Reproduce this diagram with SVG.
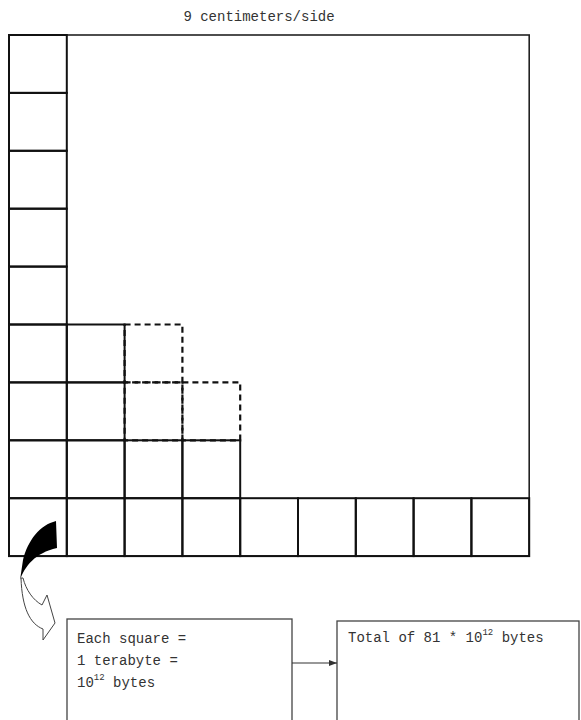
<svg xmlns="http://www.w3.org/2000/svg" width="581" height="720" viewBox="0 0 581 720">
<style>
  .t { font-family: "Liberation Mono", "DejaVu Sans Mono", monospace; font-size: 14px; fill: #333; }
  .sup { font-size: 9px; }
  .cell { fill: none; stroke: #111; stroke-width: 2; }
  .dcell { fill: none; stroke: #111; stroke-width: 2.2; stroke-dasharray: 6 4; }
  .frame { fill: none; stroke: #222; stroke-width: 1.6; }
  .box { fill: none; stroke: #444; stroke-width: 1.3; }
  .conn { fill: none; stroke: #333; stroke-width: 1.2; }
</style>
<defs>
  <marker id="ah" markerWidth="8" markerHeight="6" refX="8" refY="3" orient="auto" markerUnits="userSpaceOnUse">
    <path d="M0,0 L8,3 L0,6 Z" fill="#333"/>
  </marker>
  <rect id="sq" width="57.8" height="57.9"/>
</defs>
<rect width="581" height="720" fill="#fff"/>

<g id="title">
  <text class="t" x="259" y="21" text-anchor="middle">9 centimeters/side</text>
</g>

<g id="frame">
  <rect class="frame" x="9" y="35" width="520.2" height="521.1"/>
</g>

<g id="dashed-cells">
  <use href="#sq" class="dcell" x="124.6" y="324.5"/>
  <use href="#sq" class="dcell" x="124.6" y="382.4"/>
  <use href="#sq" class="dcell" x="182.4" y="382.4"/>
</g>

<g id="grid-cells">
  <use href="#sq" class="cell" x="9" y="35"/>
  <use href="#sq" class="cell" x="9" y="92.9"/>
  <use href="#sq" class="cell" x="9" y="150.8"/>
  <use href="#sq" class="cell" x="9" y="208.7"/>
  <use href="#sq" class="cell" x="9" y="266.6"/>
  <use href="#sq" class="cell" x="9" y="324.5"/>
  <use href="#sq" class="cell" x="9" y="382.4"/>
  <use href="#sq" class="cell" x="9" y="440.3"/>
  <use href="#sq" class="cell" x="66.8" y="324.5"/>
  <use href="#sq" class="cell" x="66.8" y="382.4"/>
  <use href="#sq" class="cell" x="66.8" y="440.3"/>
  <use href="#sq" class="cell" x="124.6" y="440.3"/>
  <use href="#sq" class="cell" x="182.4" y="440.3"/>
  <use href="#sq" class="cell" x="9" y="498.2"/>
  <use href="#sq" class="cell" x="66.8" y="498.2"/>
  <use href="#sq" class="cell" x="124.6" y="498.2"/>
  <use href="#sq" class="cell" x="182.4" y="498.2"/>
  <use href="#sq" class="cell" x="240.2" y="498.2"/>
  <use href="#sq" class="cell" x="298" y="498.2"/>
  <use href="#sq" class="cell" x="355.8" y="498.2"/>
  <use href="#sq" class="cell" x="413.6" y="498.2"/>
  <use href="#sq" class="cell" x="471.4" y="498.2"/>
</g>

<g id="box-each">
  <rect class="box" x="67" y="619" width="225" height="110"/>
  <text class="t" x="77" y="643">Each square =</text>
  <text class="t" x="77" y="665">1 terabyte =</text>
  <text class="t" x="77" y="687">10<tspan class="sup" dy="-7">12</tspan><tspan dy="7"> bytes</tspan></text>
</g>

<g id="box-total">
  <rect class="box" x="337" y="621" width="242" height="110"/>
  <text class="t" x="348" y="642">Total of 81 * 10<tspan class="sup" dy="-7">12</tspan><tspan dy="7"> bytes</tspan></text>
</g>

<g id="connectors">
  <path class="conn" d="M292,663 L337,663" marker-end="url(#ah)"/>
  <path d="M56,521 C40,525 28,540 23,560 L20,580 C25,566 35,553 57,548 Z" fill="#000"/>
  <path d="M21,578 C22,608 30,624 43,629 L43,640 L55,623 L47,595 L42,605 C33,600 26,590 23,578 Z" fill="#fff" stroke="#444" stroke-width="1"/>
</g>
</svg>
